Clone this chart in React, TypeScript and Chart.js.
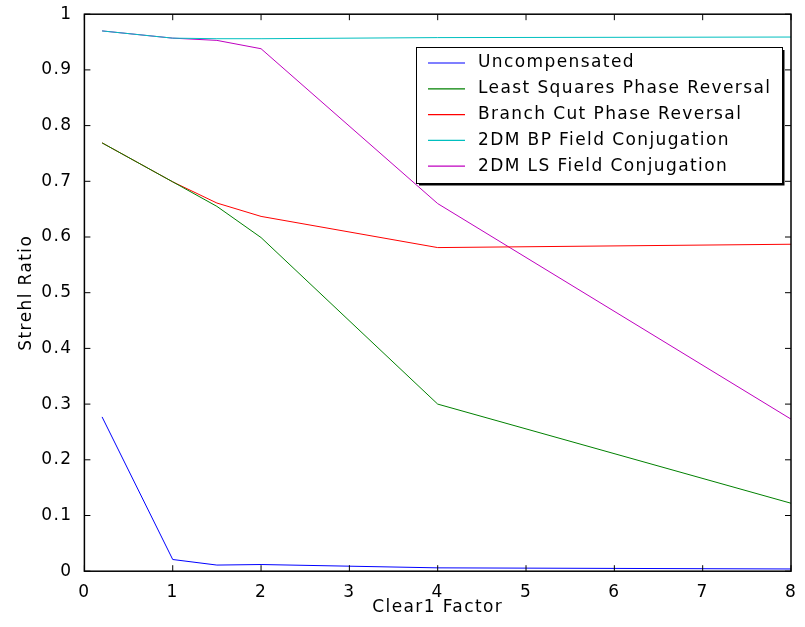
import React, { useEffect, useRef } from "react";
import { Chart, registerables } from "chart.js";

Chart.register(...registerables);

const xValues = [0.2, 1, 1.5, 2, 4, 8];
const uncompensated = [0.277, 0.021, 0.011, 0.012, 0.006, 0.004];
const leastSquares = [0.769, 0.699, 0.655, 0.599, 0.3, 0.122];
const branchCut = [0.769, 0.699, 0.661, 0.637, 0.581, 0.587];
const bpField = [0.97, 0.957, 0.956, 0.956, 0.958, 0.959];
const lsField = [0.97, 0.957, 0.953, 0.938, 0.66, 0.273];

const seriesLabels = [
  "Uncompensated",
  "Least Squares Phase Reversal",
  "Branch Cut Phase Reversal",
  "2DM BP Field Conjugation",
  "2DM LS Field Conjugation",
];
const seriesColors = ["#0000ff", "#008000", "#ff0000", "#00bfbf", "#bf00bf"];
const seriesValues = [uncompensated, leastSquares, branchCut, bpField, lsField];

const FONT = "'DejaVu Sans', sans-serif";
const FONT_SIZE = 17;

const framePlugin = {
  id: "matlabFrame",
  beforeDraw(chart: any) {
    (chart.ctx as any).letterSpacing = "1.4px";
  },
  afterDatasetsDraw(chart: any) {
    const ctx: CanvasRenderingContext2D = chart.ctx;
    const { left, right, top, bottom } = chart.chartArea;
    const xs = chart.scales.x;
    const ys = chart.scales.y;
    ctx.save();
    ctx.strokeStyle = "#000";
    ctx.lineWidth = 1.5;
    ctx.strokeRect(left, top, right - left, bottom - top);
    ctx.lineWidth = 1;
    const tl = 6;
    ctx.beginPath();
    xs.ticks.forEach((t: any) => {
      const px = xs.getPixelForValue(t.value);
      ctx.moveTo(px, bottom);
      ctx.lineTo(px, bottom - tl);
      ctx.moveTo(px, top);
      ctx.lineTo(px, top + tl);
    });
    ys.ticks.forEach((t: any) => {
      const py = ys.getPixelForValue(t.value);
      ctx.moveTo(left, py);
      ctx.lineTo(left + tl, py);
      ctx.moveTo(right, py);
      ctx.lineTo(right - tl, py);
    });
    ctx.stroke();

    // legend
    const lx = 416, ly = 47, lw = 366, lh = 136;
    ctx.fillStyle = "#fff";
    ctx.fillRect(lx, ly, lw, lh);
    ctx.strokeStyle = "#000";
    ctx.lineWidth = 1;
    ctx.strokeRect(lx + 0.5, ly + 0.5, lw, lh);
    ctx.lineWidth = 2;
    ctx.beginPath();
    ctx.moveTo(lx + lw + 1.5, ly + 3);
    ctx.lineTo(lx + lw + 1.5, ly + lh + 1.5);
    ctx.lineTo(lx + 3, ly + lh + 1.5);
    ctx.stroke();
    ctx.font = `${FONT_SIZE}px ${FONT}`;
    ctx.textBaseline = "middle";
    ctx.textAlign = "left";
    chart.data.datasets.forEach((ds: any, i: number) => {
      const ry = ly + 16 + i * 25.8;
      ctx.strokeStyle = ds.borderColor;
      ctx.lineWidth = 1.2;
      ctx.beginPath();
      ctx.moveTo(428, ry);
      ctx.lineTo(465, ry);
      ctx.stroke();
      ctx.fillStyle = "#000";
      ctx.fillText(ds.label, 478, ry);
    });
    ctx.restore();
  },
};

const fmt = (v: any) => String(Number(Number(v).toFixed(2)));

export default function App() {
  const ref = useRef<HTMLCanvasElement>(null);
  useEffect(() => {
    document.body.style.margin = "0";
    const font = { family: FONT, size: FONT_SIZE };
    const chart = new Chart(ref.current!, {
      type: "line",
      data: {
        datasets: seriesValues.map((vals, i) => ({
          label: seriesLabels[i],
          data: xValues.map((x, j) => ({ x, y: vals[j] })),
          borderColor: seriesColors[i],
          backgroundColor: seriesColors[i],
          borderWidth: 1,
          pointRadius: 0,
          tension: 0,
          fill: false,
        })),
      },
      options: {
        responsive: false,
        animation: false,
        devicePixelRatio: 1,
        layout: { padding: { left: 0, top: 14, right: 14, bottom: 0 } },
        plugins: { legend: { display: false }, tooltip: { enabled: false } },
        scales: {
          x: {
            type: "linear",
            min: 0,
            max: 8,
            ticks: { stepSize: 1, color: "#000", font, padding: 3, maxRotation: 0, callback: fmt },
            grid: { display: false },
            border: { display: false },
            title: {
              display: true,
              text: "Clear1 Factor",
              color: "#000",
              font,
              padding: { top: -8, bottom: 9 },
            },
          },
          y: {
            type: "linear",
            min: 0,
            max: 1,
            ticks: { stepSize: 0.1, color: "#000", font, padding: 4, callback: fmt },
            grid: { display: false },
            border: { display: false },
            title: {
              display: true,
              text: "Strehl Ratio",
              color: "#000",
              font,
              padding: { top: 16, bottom: 0 },
            },
            afterFit: (s: any) => {
              s.width = 84.4;
            },
          },
        },
      },
      plugins: [framePlugin],
    } as any);
    return () => chart.destroy();
  }, []);
  return (
    <div style={{ width: 805, height: 627 }}>
      <canvas ref={ref} width={805} height={627} style={{ display: "block" }} />
    </div>
  );
}
